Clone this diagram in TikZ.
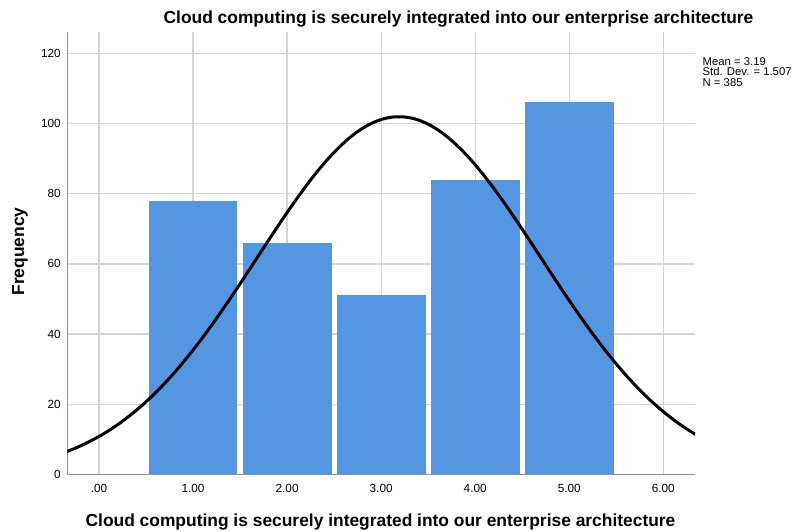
\documentclass[tikz,border=0pt]{standalone}
\usepackage{fontspec}
\setmainfont{Liberation Sans}
\definecolor{gridgray}{RGB}{212,212,212}
\definecolor{axisgray}{RGB}{145,145,145}
\definecolor{barblue}{RGB}{85,150,227}
\tikzset{
  gridline/.style={draw=gridgray, line width=1.3pt},
  axisline/.style={draw=axisgray, line width=1.6pt},
  histbar/.style={fill=barblue},
  normcurve/.style={draw=black, line width=3pt, line join=round},
  ticklab/.style={inner sep=0pt, font=\fontsize{11.8}{13}\selectfont},
  statlab/.style={inner sep=0pt, anchor=base west, font=\fontsize{11.3}{12}\selectfont},
  titlelab/.style={inner sep=0pt, anchor=base, font=\fontsize{17.4}{20}\selectfont\bfseries}
}
\begin{document}
\begin{tikzpicture}[x=1pt,y=-1pt]
\useasboundingbox (0,0) rectangle (793,531);
% axis mapping: x = 99 + 94.05*value, y = 474.5 - 3.51*count
\def\xo{99}
\def\xs{94.05}
\def\yo{474.5}
\def\ys{3.51}

% grid
\foreach \v in {20,40,...,120}
  \draw[gridline] (67.3,{\yo-\ys*\v}) -- (695,{\yo-\ys*\v});
\foreach \i in {0,...,6}
  \draw[gridline] ({\xo+\xs*\i},31.7) -- ({\xo+\xs*\i},\yo);

% histogram bars
\foreach \c/\h in {1/78,2/66,3/51,4/84,5/106}
  \fill[histbar] ({\xo+\xs*(\c-0.5)+2.6},\yo) rectangle ({\xo+\xs*(\c+0.5)-2.6},{\yo-\ys*\h});

% axes
\draw[axisline] (67.3,31.7) -- (67.3,\yo) -- (695,\yo);

% normal curve (mean 3.19, sd 1.507, N 385, bin width 1)
\begin{scope}
\clip (67.3,31.7) rectangle (695,\yo);
\draw[normcurve] plot[domain=-0.36:6.36, samples=160, smooth]
  ({\xo+\xs*\x},{\yo-\ys*101.92*exp(((\x-3.19)*(\x-3.19))/(-4.542))});
\end{scope}

% y tick labels
\foreach \v in {0,20,40,...,120}
  \node[ticklab, anchor=east] (ylab\v) at (61,{\yo-\ys*\v}) {\v};
% x tick labels
\foreach \i/\t in {0/.00,1/1.00,2/2.00,3/3.00,4/4.00,5/5.00,6/6.00}
  \node[ticklab, anchor=base] (xlab\i) at ({\xo+\xs*\i},492.5) {\t};

% statistics
\node[statlab] (statmean) at (702.5,65) {Mean = 3.19};
\node[statlab] (statsd) at (702.5,75.5) {Std. Dev. = 1.507};
\node[statlab] (statn) at (702.5,86) {N = 385};

% titles
\node[titlelab] (title) at (458.5,23.3) {Cloud computing is securely integrated into our enterprise architecture};
\node[titlelab] (xtitle) at (380.5,526) {Cloud computing is securely integrated into our enterprise architecture};
\node[titlelab, rotate=90] (ytitle) at (24,251.5) {Frequency};
\end{tikzpicture}
\end{document}
